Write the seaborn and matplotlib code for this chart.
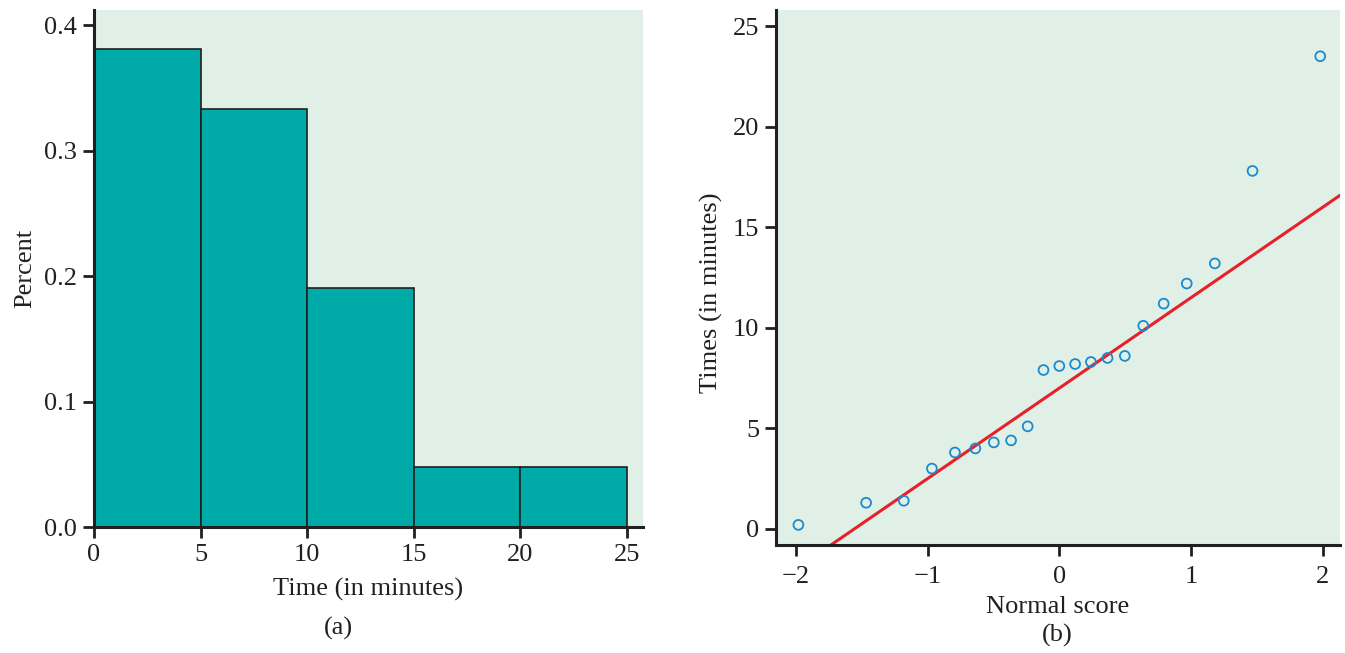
import matplotlib
matplotlib.use("Agg")
import matplotlib.pyplot as plt
import seaborn as sns
import numpy as np
import pandas as pd

# ---- data ----
times = [0.2, 1.3, 1.4, 3.0, 3.8, 4.0, 4.3, 4.4, 5.1, 7.9, 8.1, 8.2, 8.3, 8.5, 8.6,
         10.1, 11.2, 12.2, 13.2, 17.8, 23.5]
normal_scores = [-1.98, -1.466, -1.180, -0.967, -0.792, -0.637, -0.497, -0.366, -0.240, -0.120,
                 0.0, 0.120, 0.240, 0.366, 0.497, 0.637, 0.792, 0.967, 1.180, 1.466, 1.98]
bin_edges = [0, 5, 10, 15, 20, 25]
hist_yticks = [0.0, 0.1, 0.2, 0.3, 0.4]
qq_xticks = [-2, -1, 0, 1, 2]
qq_yticks = [0, 5, 10, 15, 20, 25]
line_intercept = 7.0
line_slope = 4.5

sns.set_theme(style="ticks")
plt.rcParams['font.family'] = ['Liberation Serif', 'DejaVu Serif']
plt.rcParams['axes.unicode_minus'] = True

BG = "#e1f0e6"
BAR = "#00aaa9"
DARK = "#231f20"
PT = "#1b8ad0"
RED = "#e8202a"
FS = 19

fig = plt.figure(figsize=(13.45, 6.53), dpi=100)
ax1 = fig.add_axes([94/1345, (653-527)/653, (643-94)/1345, (527-10)/653])
ax2 = fig.add_axes([776/1345, (653-545)/653, (1340-776)/1345, (545-10)/653])

df = pd.DataFrame({"time": times, "score": normal_scores})

# ---- (a) histogram ----
sns.histplot(data=df, x="time", bins=bin_edges, stat="probability", ax=ax1,
             color=BAR, alpha=1, edgecolor=DARK, linewidth=1.2)
ax1.set_xlim(0, 25.75)
ax1.set_ylim(0, 0.412)
ax1.set_xticks(bin_edges)
ax1.set_yticks(hist_yticks)
ax1.set_yticklabels([f"{v:.1f}" for v in hist_yticks])
ax1.set_xlabel("Time (in minutes)", fontsize=FS, labelpad=8.5)
ax1.set_ylabel("Percent", fontsize=FS, labelpad=6)

# ---- (b) normal quantile plot ----
sns.scatterplot(data=df, x="score", y="time", ax=ax2, marker="o", s=50,
                facecolor="none", edgecolor=PT, linewidth=1.3, zorder=3)
xl = np.array([-2.15, 2.13])
ax2.plot(xl, line_intercept + line_slope * xl, color=RED, lw=2.2, zorder=2)
ax2.set_xlim(-2.15, 2.13)
ax2.set_ylim(-0.8, 25.8)
ax2.set_xticks(qq_xticks)
ax2.set_yticks(qq_yticks)
ax2.set_xlabel("Normal score", fontsize=FS)
ax2.set_ylabel("Times (in minutes)", fontsize=FS)
ax2.xaxis.set_label_coords(0.5, -0.096)
ax2.yaxis.set_label_coords(-0.094, 0.471)

for ax in (ax1, ax2):
    ax.set_facecolor(BG)
    sns.despine(ax=ax)
    for s in ("left", "bottom"):
        ax.spines[s].set_linewidth(2.2)
        ax.spines[s].set_color(DARK)
    ax.tick_params(direction="out", length=8, width=2, color=DARK,
                   labelsize=FS, labelcolor=DARK, pad=4)
    ax.xaxis.label.set_color(DARK)
    ax.yaxis.label.set_color(DARK)
ax2.tick_params(axis="x", pad=7)

fig.text(338/1345, 1 - 628/653, "(a)", ha="center", va="center", fontsize=FS, color=DARK)
fig.text(1057/1345, 1 - 635/653, "(b)", ha="center", va="center", fontsize=FS, color=DARK)

fig.savefig("out.png", dpi=100)
